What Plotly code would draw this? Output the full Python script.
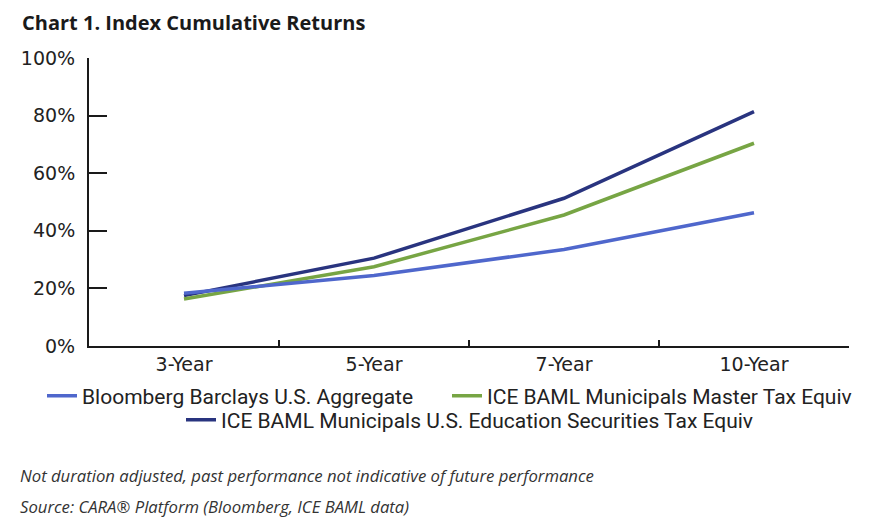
import plotly.graph_objects as go

periods = ["3-Year", "5-Year", "7-Year", "10-Year"]
bbg_aggregate = [18.3, 24.5, 33.5, 46.3]
muni_master = [16.3, 27.5, 45.5, 70.4]
muni_education = [17.5, 30.5, 51.3, 81.4]

y_ticks = [0, 20, 40, 60, 80, 100]
y_tick_text = ["0%", "20%", "40%", "60%", "80%", "100%"]

names = [
    "Bloomberg Barclays U.S. Aggregate",
    "ICE BAML Municipals Master Tax Equiv",
    "ICE BAML Municipals U.S. Education Securities Tax Equiv",
]
colors = ["#4f67cc", "#77a544", "#29347f"]

fig = go.Figure()

# navy drawn first so the lighter lines sit on top near 3-Year
# each series gets its own legend box so they can be placed like the original
fig.add_trace(go.Scatter(x=periods, y=muni_education, name=names[2], mode="lines",
                         line=dict(color=colors[2], width=3.5), legend="legend3"))
fig.add_trace(go.Scatter(x=periods, y=muni_master, name=names[1], mode="lines",
                         line=dict(color=colors[1], width=3.5), legend="legend2"))
fig.add_trace(go.Scatter(x=periods, y=bbg_aggregate, name=names[0], mode="lines",
                         line=dict(color=colors[0], width=3.5), legend="legend"))

axis_font = dict(family="DejaVu Sans", size=19, color="#222222")
legend_font = dict(family="Roboto", size=21, color="#222222")


# page shows the figure with an 8px body margin, so the plot area
# (page pixels 89..849 x 58..346) is set with margins shifted by 8
def px_x(px):
    return (px - 89) / 760


def px_y(py):
    return (346 - py) / 288


def legend_box(left_px, row_py):
    return dict(orientation="h", x=px_x(left_px), xanchor="left", y=px_y(row_py),
                yanchor="middle", font=legend_font, bgcolor="rgba(0,0,0,0)")


fig.update_layout(
    width=879, height=522,
    margin=dict(l=81, r=38, t=50, b=184, autoexpand=False),
    paper_bgcolor="white", plot_bgcolor="white",
    title=dict(text="<b>Chart 1. Index Cumulative Returns</b>", x=0.016, xanchor="left",
               y=0.972, yanchor="middle",
               font=dict(family="Open Sans", size=20, color="#1a1a1a")),
    xaxis=dict(type="category", tickson="boundaries", ticks="inside", ticklen=6,
               tickwidth=2, tickcolor="#1a1a1a", showline=True, linewidth=2,
               linecolor="#1a1a1a", showgrid=False, tickfont=axis_font, range=[-0.5, 3.5]),
    yaxis=dict(range=[0, 100], tickvals=y_ticks, ticktext=y_tick_text,
               ticks="inside", ticklen=18, tickwidth=2, tickcolor="#1a1a1a",
               showline=True, linewidth=2, linecolor="#1a1a1a", showgrid=False,
               zeroline=False, tickfont=axis_font, ticklabelstandoff=8),
    legend=legend_box(42, 396),
    legend2=legend_box(447, 396),
    legend3=legend_box(181, 420),
    showlegend=True,
)

notes = [
    ("<i>Not duration adjusted, past performance not indicative of future performance</i>", 475),
    ("<i>Source: CARA® Platform (Bloomberg, ICE BAML data)</i>", 506),
]
for text, ypx in notes:
    fig.add_annotation(text=text, xref="paper", yref="paper",
                       x=px_x(18), xanchor="left",
                       y=px_y(ypx), yanchor="middle", showarrow=False,
                       font=dict(family="Open Sans", size=16.7, color="#333333"))

fig.write_html("out.html")
